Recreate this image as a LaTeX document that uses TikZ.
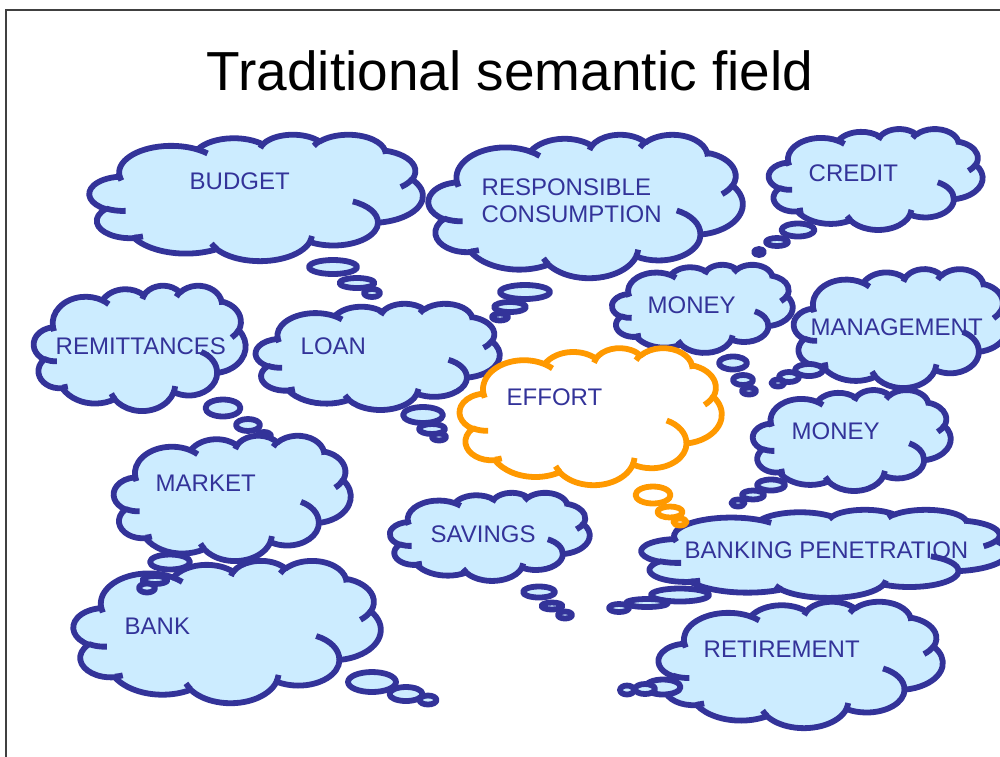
\documentclass[tikz,border=0pt]{standalone}
\usepackage{fontspec}
\setmainfont{Liberation Sans}
\definecolor{navy}{HTML}{333399}
\definecolor{skyfill}{HTML}{CCECFF}
\definecolor{effortline}{HTML}{FF9900}
\definecolor{framegray}{HTML}{404040}

\tikzset{
  % elliptical arc given with DrawingML-style visual angles
  cloudarc/.style n args={6}{x radius=#1, y radius=#2,
    start angle={atan2(#3*sin(#5),#4*cos(#5))},
    delta angle={mod(atan2(#3*sin(#5+#6),#4*cos(#5+#6))-atan2(#3*sin(#5),#4*cos(#5))+720,360)}},
  outline/.style={line width=5.8pt, line join=round},
  bluecloud/.style={draw=navy, fill=skyfill},
  orangecloud/.style={draw=effortline, fill=white},
  word/.style={font=\fontsize{24}{26}\selectfont, text=navy, inner sep=0pt, anchor=base west},
  heading/.style={font=\fontsize{55}{60}\selectfont, text=black, inner sep=0pt, anchor=base},
}

% cloud in the box (x0,y0) with width w and height h; #5 = colour style
\newcommand\drawcloud[5]{%
  \begin{scope}[shift={(#1,#2)}, xscale=#3, yscale=#4]
    \path[outline, #5] (0.0902778,0.3326389)
      arc[cloudarc={0.156319}{0.212731}{6753}{9190}{-190.48748}{123.78053}]
      arc[cloudarc={0.123449}{0.168218}{5333}{7267}{-144.10238}{89.94523}]
      arc[cloudarc={0.101042}{0.137616}{4365}{5945}{-145.80792}{99.72302}]
      arc[cloudarc={0.112431}{0.152662}{4857}{6595}{-130.98607}{117.24173}]
      arc[cloudarc={0.123449}{0.168356}{5333}{7273}{-78.70888}{109.02692}]
      arc[cloudarc={0.156829}{0.213426}{6775}{9220}{-46.26725}{130.26900}]
      arc[cloudarc={0.133912}{0.182106}{5785}{7867}{0.62502}{114.03333}]
      arc[cloudarc={0.156296}{0.213310}{6752}{9215}{22.45160}{115.17255}]
      arc[cloudarc={0.178704}{0.244051}{7720}{10543}{66.24263}{75.71102}]
      arc[cloudarc={0.100926}{0.136991}{4360}{5918}{-274.94208}{146.73557}]
      arc[cloudarc={0.100579}{0.137616}{4345}{5945}{-246.82850}{152.51885}]
      -- cycle;
    % inner hooks of the puffs
    \path[outline, #5, fill=none]
      (0.108634,0.605949) arc[cloudarc={0.100579}{0.137616}{4345}{5945}{86.74200}{26.42950}]
      (0.160370,0.807847) arc[cloudarc={0.100926}{0.136991}{4360}{5918}{73.61047}{11.44747}]
      (0.381435,0.904861) arc[cloudarc={0.156296}{0.213310}{6752}{9215}{137.62415}{14.08110}]
      (0.667292,0.804421) arc[cloudarc={0.156296}{0.213310}{6752}{9215}{6.45327}{15.99835}]
      (0.790023,0.531343) arc[cloudarc={0.133912}{0.182106}{5785}{7867}{-70.29235}{70.91737}]
      (0.967546,0.355417) arc[cloudarc={0.123449}{0.168356}{5333}{7273}{30.31803}{27.75150}]
      (0.887130,0.125602) arc[cloudarc={0.112431}{0.152662}{4857}{6595}{-13.74433}{14.85890}]
      (0.673102,0.091481) arc[cloudarc={0.112431}{0.152662}{4857}{6595}{-149.18145}{18.19537}]
      (0.512523,0.109259) arc[cloudarc={0.101042}{0.137616}{4365}{5945}{-163.49427}{17.68635}]
      (0.324074,0.120185) arc[cloudarc={0.156319}{0.212731}{6753}{9190}{-66.70695}{12.31935}]
      (0.095532,0.365486) arc[cloudarc={0.156319}{0.212731}{6753}{9190}{157.65435}{11.85817}];
  \end{scope}}

% thought bubble: centre, radii, colour style
\newcommand\bubble[5]{\path[outline, #5] (#1,#2) ellipse[x radius=#3, y radius=#4];}

\begin{document}
\begin{tikzpicture}[x=1pt, y=-1pt]
  \useasboundingbox (0,0) rectangle (1000,756);
  \clip (0,0) rectangle (1000,756);

  % slide frame
  \draw[framegray, line width=2pt] (6,760) -- (6,10) -- (1004,10);

  \node[heading] (title) at (510,90) {Traditional semantic field};

  % BUDGET
  \drawcloud{89.5}{134.3}{333.3}{126.4}{bluecloud}
  \bubble{333}{267}{24}{7}{bluecloud}
  \bubble{357}{283}{17.5}{5}{bluecloud}
  \bubble{372}{293}{8}{4}{bluecloud}
  \node[word] (budget) at (189.5,189) {BUDGET};

  % RESPONSIBLE CONSUMPTION
  \drawcloud{428.5}{134.3}{314.2}{143.4}{bluecloud}
  \bubble{525}{292}{25}{7}{bluecloud}
  \bubble{510}{307}{16}{5}{bluecloud}
  \bubble{500}{317}{8}{3.5}{bluecloud}
  \node[word] (resp) at (481.5,195) {RESPONSIBLE};
  \node[word] (cons) at (481.5,222) {CONSUMPTION};

  % CREDIT
  \drawcloud{768.8}{128.7}{213.8}{100.9}{bluecloud}
  \bubble{798}{230}{16.5}{6.5}{bluecloud}
  \bubble{777}{242}{11}{4}{bluecloud}
  \bubble{759}{252}{5}{3}{bluecloud}
  \node[word] (credit) at (808.5,181) {CREDIT};

  % REMITTANCES
  \drawcloud{33.8}{285.3}{211.8}{125.3}{bluecloud}
  \bubble{223}{408}{17.5}{8.5}{bluecloud}
  \bubble{248}{425}{12}{6}{bluecloud}
  \bubble{264}{436}{7}{4}{bluecloud}
  \node[word] (remit) at (55.5,354) {REMITTANCES};

  % LOAN
  \drawcloud{255.7}{303.4}{244}{106.2}{bluecloud}
  \bubble{423}{415}{20}{8}{bluecloud}
  \bubble{432}{429}{13}{5}{bluecloud}
  \bubble{439}{437}{7}{3.5}{bluecloud}
  \node[word] (loan) at (300.5,354) {LOAN};

  % MONEY (upper)
  \drawcloud{612}{264.5}{180.7}{88.1}{bluecloud}
  \bubble{733}{363}{14}{6.5}{bluecloud}
  \bubble{743}{380}{10}{5}{bluecloud}
  \bubble{749}{391}{7}{3.5}{bluecloud}
  \node[word] (moneyA) at (647.5,313) {MONEY};

  % MANAGEMENT
  \drawcloud{793.8}{268.7}{213.8}{118.9}{bluecloud}
  \bubble{809}{370}{14}{6}{bluecloud}
  \bubble{789}{377}{10}{5}{bluecloud}
  \bubble{778}{383}{6.5}{3.5}{bluecloud}
  \node[word] (manage) at (810.5,335) {MANAGEMENT};

  % MONEY (lower)
  \drawcloud{752.9}{389.7}{197.8}{100.9}{bluecloud}
  \bubble{771}{485}{14}{5.5}{bluecloud}
  \bubble{753}{495}{11}{4.5}{bluecloud}
  \bubble{738}{503}{6.5}{3.5}{bluecloud}
  \node[word] (moneyB) at (791.5,439) {MONEY};

  % BANKING PENETRATION
  \drawcloud{641.4}{509.5}{366.4}{88.1}{bluecloud}
  \bubble{680}{595}{29}{6.5}{bluecloud}
  \bubble{647}{603}{21}{4}{bluecloud}
  \bubble{619}{608}{10}{4}{bluecloud}
  \node[word] (banking) at (684.5,558) {BANKING PENETRATION};

  % EFFORT
  \drawcloud{459.7}{347.7}{262}{137}{orangecloud}
  \bubble{653}{495}{17.5}{8.5}{orangecloud}
  \bubble{670}{512}{12.5}{5.5}{orangecloud}
  \bubble{680}{522}{6.5}{3.5}{orangecloud}
  \node[word] (effort) at (506.5,405) {EFFORT};

  % SAVINGS
  \drawcloud{389.9}{492.5}{199.8}{88.1}{bluecloud}
  \bubble{539}{592}{16}{5.5}{bluecloud}
  \bubble{552}{606}{10.5}{3.5}{bluecloud}
  \bubble{565}{615}{7}{3.5}{bluecloud}
  \node[word] (savings) at (430.5,542) {SAVINGS};

  % BANK
  \drawcloud{73.5}{560.4}{307.2}{142.3}{bluecloud}
  \bubble{372}{682}{24}{10}{bluecloud}
  \bubble{406}{694}{16.5}{7}{bluecloud}
  \bubble{428}{700}{8.5}{4.5}{bluecloud}
  \node[word] (bank) at (124.5,634) {BANK};

  % MARKET
  \drawcloud{113.8}{435.3}{236.9}{125.3}{bluecloud}
  \bubble{170}{562}{20}{7.5}{bluecloud}
  \bubble{155}{580}{12.5}{4}{bluecloud}
  \bubble{147}{588}{8}{4.5}{bluecloud}
  \node[word] (market) at (155.5,491) {MARKET};

  % RETIREMENT
  \drawcloud{658.6}{601.3}{284.1}{126.4}{bluecloud}
  \bubble{663}{687}{17.5}{7.5}{bluecloud}
  \bubble{645}{689}{10}{5}{bluecloud}
  \bubble{627}{690}{7}{4.5}{bluecloud}
  \node[word] (retire) at (703.5,657) {RETIREMENT};
\end{tikzpicture}
\end{document}
